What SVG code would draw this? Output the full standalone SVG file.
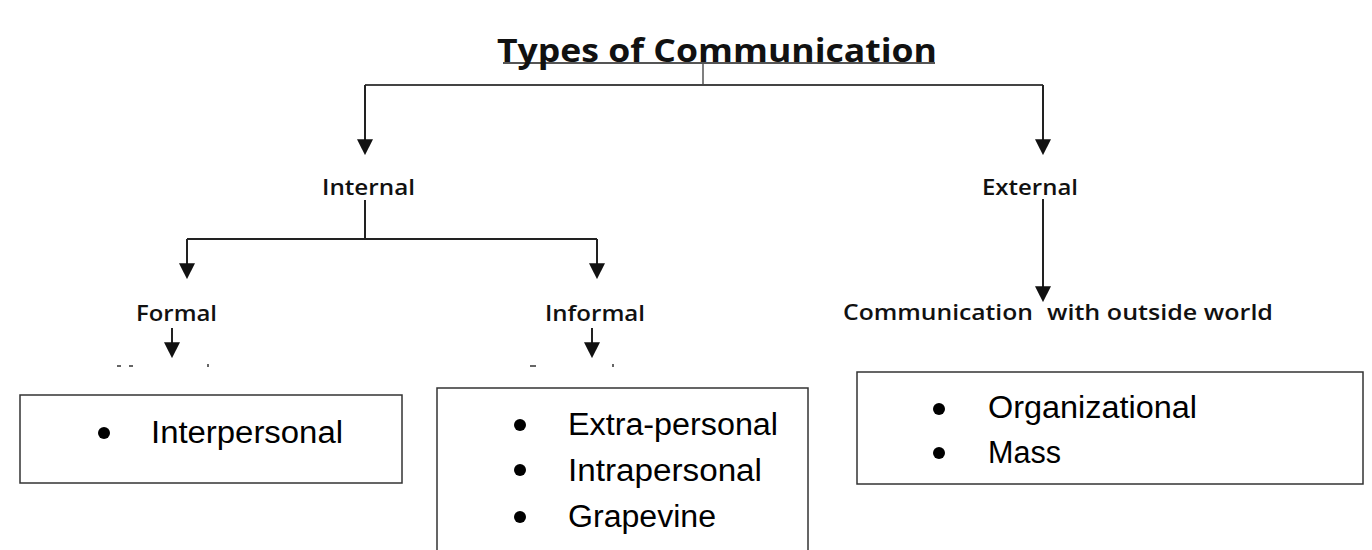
<svg xmlns="http://www.w3.org/2000/svg" width="1372" height="550" viewBox="0 0 1372 550">
  <defs>
    <style>
      .lbl { font-family: "Open Sans", "Liberation Sans", sans-serif; font-weight: 600; font-size: 22px; fill: #111; }
      .title { font-family: "Open Sans", "Liberation Sans", sans-serif; font-weight: 700; font-size: 32px; fill: #111; }
      .item { font-family: "Liberation Sans", "Open Sans", sans-serif; font-size: 31px; fill: #000; }
      .box { fill: #fff; stroke: #333; stroke-width: 1.5; }
      .conn { stroke: #222; stroke-width: 2; fill: none; }
      .bullet { fill: #000; }
    </style>
    <marker id="arrow" markerUnits="userSpaceOnUse" markerWidth="16" markerHeight="16" viewBox="0 0 15 15" refX="13" refY="7.5" orient="auto">
      <path d="M0,0 L15,7.5 L0,15 z" fill="#111"/>
    </marker>
  </defs>
  <rect width="1372" height="550" fill="#fff"/>

  <g id="connectors">
    <line x1="503" y1="63" x2="935" y2="63" stroke="#555" stroke-width="2"/>
    <line x1="703" y1="63" x2="703" y2="85" stroke="#555" stroke-width="1.5"/>
    <line x1="365" y1="85" x2="1043" y2="85" stroke="#444" stroke-width="2"/>
    <line class="conn" x1="365" y1="85" x2="365" y2="153" marker-end="url(#arrow)"/>
    <line class="conn" x1="1043" y1="85" x2="1043" y2="153" marker-end="url(#arrow)"/>
    <line class="conn" x1="365" y1="200" x2="365" y2="239"/>
    <line class="conn" x1="187" y1="239" x2="597" y2="239"/>
    <line class="conn" x1="187" y1="239" x2="187" y2="277" marker-end="url(#arrow)"/>
    <line class="conn" x1="597" y1="239" x2="597" y2="277" marker-end="url(#arrow)"/>
    <line class="conn" x1="1043" y1="199" x2="1043" y2="300" marker-end="url(#arrow)"/>
    <line class="conn" x1="172" y1="328" x2="172" y2="356" marker-end="url(#arrow)"/>
    <line class="conn" x1="592" y1="328" x2="592" y2="356" marker-end="url(#arrow)"/>
  </g>

  <g id="fragments" fill="#666">
    <rect x="117" y="365" width="4" height="2"/>
    <rect x="129" y="365" width="4" height="2"/>
    <rect x="207" y="364" width="2" height="3"/>
    <rect x="530" y="365" width="6" height="2"/>
    <rect x="612" y="364" width="2" height="3"/>
  </g>

  <g id="title">
    <text class="title" x="497" y="62" textLength="440" lengthAdjust="spacingAndGlyphs">Types of Communication</text>
  </g>

  <g id="internal">
    <text class="lbl" x="322" y="195" textLength="93" lengthAdjust="spacingAndGlyphs">Internal</text>
  </g>
  <g id="external">
    <text class="lbl" x="982" y="195" textLength="96" lengthAdjust="spacingAndGlyphs">External</text>
  </g>
  <g id="formal">
    <text class="lbl" x="136" y="321" textLength="81" lengthAdjust="spacingAndGlyphs">Formal</text>
  </g>
  <g id="informal">
    <text class="lbl" x="545" y="321" textLength="100" lengthAdjust="spacingAndGlyphs">Informal</text>
  </g>
  <g id="outside">
    <text class="lbl" x="843" y="320" textLength="190" lengthAdjust="spacingAndGlyphs">Communication</text>
    <text class="lbl" x="1047" y="320" textLength="226" lengthAdjust="spacingAndGlyphs">with outside world</text>
  </g>

  <g id="box-formal">
    <rect class="box" x="20" y="395" width="382" height="88"/>
    <circle class="bullet" cx="104" cy="433" r="6"/>
    <text class="item" x="151" y="443" textLength="192" lengthAdjust="spacingAndGlyphs">Interpersonal</text>
  </g>

  <g id="box-informal">
    <rect class="box" x="437" y="388" width="371" height="172"/>
    <circle class="bullet" cx="520" cy="425" r="6"/>
    <circle class="bullet" cx="520" cy="470" r="6"/>
    <circle class="bullet" cx="520" cy="517" r="6"/>
    <text class="item" x="568" y="435" textLength="210" lengthAdjust="spacingAndGlyphs">Extra-personal</text>
    <text class="item" x="568" y="481" textLength="194" lengthAdjust="spacingAndGlyphs">Intrapersonal</text>
    <text class="item" x="568" y="527" textLength="148" lengthAdjust="spacingAndGlyphs">Grapevine</text>
  </g>

  <g id="box-external">
    <rect class="box" x="857" y="372" width="506" height="112"/>
    <circle class="bullet" cx="939" cy="409" r="6"/>
    <circle class="bullet" cx="939" cy="453" r="6"/>
    <text class="item" x="988" y="418" textLength="209" lengthAdjust="spacingAndGlyphs">Organizational</text>
    <text class="item" x="988" y="463" textLength="73" lengthAdjust="spacingAndGlyphs">Mass</text>
  </g>
</svg>
